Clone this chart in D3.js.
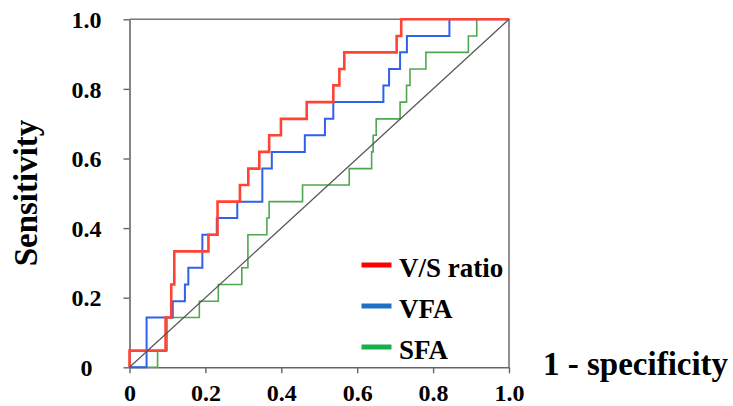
<!DOCTYPE html>
<html>
<head>
<meta charset="utf-8">
<script src="https://cdn.jsdelivr.net/npm/d3@7"></script>
<style>
  body { margin: 0; background: #fff; }
  svg text { font-family: "Liberation Serif", "DejaVu Serif", "Noto Serif", "Times New Roman", Times, serif; font-weight: bold; fill: #000; }
</style>
</head>
<body>
<div class="chart"></div>
<script>
// ROC curves: fpr where the curve steps up, and the sensitivity it reaches
var vsRatioFpr = [0, 0, 0.095, 0.110, 0.118, 0.208, 0.232, 0.291, 0.313, 0.342, 0.368, 0.399, 0.467, 0.537, 0.553, 0.566, 0.704, 0.716, 1];
var vsRatioTpr = [0, 0.048, 0.143, 0.238, 0.333, 0.381, 0.476, 0.524, 0.571, 0.619, 0.667, 0.714, 0.762, 0.810, 0.857, 0.905, 0.952, 1, 1];

var vfaFpr = [0, 0.045, 0.114, 0.146, 0.155, 0.192, 0.230, 0.284, 0.350, 0.375, 0.462, 0.515, 0.537, 0.669, 0.684, 0.713, 0.731, 0.843, 1];
var vfaTpr = [0, 0.143, 0.190, 0.238, 0.286, 0.381, 0.429, 0.476, 0.571, 0.619, 0.667, 0.714, 0.762, 0.810, 0.857, 0.905, 0.952, 1, 1];

var sfaFpr = [0, 0.074, 0.099, 0.184, 0.234, 0.296, 0.312, 0.362, 0.368, 0.456, 0.579, 0.638, 0.642, 0.650, 0.713, 0.730, 0.739, 0.781, 0.893, 0.915, 1];
var sfaTpr = [0, 0.048, 0.143, 0.190, 0.238, 0.286, 0.381, 0.429, 0.476, 0.524, 0.571, 0.619, 0.667, 0.714, 0.762, 0.810, 0.857, 0.905, 0.952, 1, 1];

var diagonal = [0, 1];
var tickValues = [0, 0.2, 0.4, 0.6, 0.8, 1.0];
var tickLabels = ["0", "0.2", "0.4", "0.6", "0.8", "1.0"];
var seriesNames = ["V/S ratio", "VFA", "SFA"];

var svgWidth = 733;
var svgHeight = 406;

var margin = { top: 19.3, right: 224, bottom: 38.7, left: 129.5 };
var width = svgWidth - margin.left - margin.right;
var height = svgHeight - margin.top - margin.bottom;

var svg = d3.select(".chart")
  .append("svg")
  .attr("width", svgWidth)
  .attr("height", svgHeight);

var chartGroup = svg.append("g")
  .attr("transform", `translate(${margin.left}, ${margin.top})`);

var xScale = d3.scaleLinear().domain([0, 1]).range([0, width]);
var yScale = d3.scaleLinear().domain([0, 1]).range([height, 0]);

// frame (top and right sides)
chartGroup.append("path")
  .attr("d", `M${xScale(0)},${yScale(1)}H${xScale(1)}V${yScale(0)}`)
  .attr("fill", "none")
  .attr("stroke", "#777")
  .attr("stroke-width", 1.6);

// axes
var labelOf = d => tickLabels[tickValues.indexOf(d)];

var leftAxis = d3.axisLeft(yScale).tickValues(tickValues).tickFormat(labelOf).tickSize(6).tickSizeOuter(0);
var bottomAxis = d3.axisBottom(xScale).tickValues(tickValues).tickFormat(labelOf).tickSize(6).tickSizeOuter(0);

var yAxisG = chartGroup.append("g").call(leftAxis);
var xAxisG = chartGroup.append("g")
  .attr("transform", `translate(0, ${height})`)
  .call(bottomAxis);

[yAxisG, xAxisG].forEach(function(g) {
  g.attr("font-family", null).attr("font-size", null);
  g.select(".domain").attr("stroke", "#666").attr("stroke-width", 1.6);
  g.selectAll(".tick line").attr("stroke", "#666").attr("stroke-width", 1.4);
  g.selectAll(".tick text")
    .attr("font-size", 24)
    .attr("fill", "#000");
});

yAxisG.selectAll(".tick text")
  .attr("text-anchor", "middle")
  .attr("x", -43)
  .attr("dy", "0.34em");

xAxisG.selectAll(".tick text")
  .attr("y", 34)
  .attr("dy", 0);

// curves
var stepLine = d3.line()
  .x(d => xScale(d[0]))
  .y(d => yScale(d[1]))
  .curve(d3.curveStepAfter);

var series = [
  { name: seriesNames[2], fpr: sfaFpr, tpr: sfaTpr, color: "#4fa84f", w: 1.6 },
  { name: seriesNames[1], fpr: vfaFpr, tpr: vfaTpr, color: "#3060ec", w: 2 },
  { name: seriesNames[0], fpr: vsRatioFpr, tpr: vsRatioTpr, color: "#ff4436", w: 2.6 }
];

series.forEach(function(s) {
  var pts = s.fpr.map((f, i) => [f, s.tpr[i]]);
  chartGroup.append("path")
    .datum(pts)
    .attr("d", stepLine)
    .attr("fill", "none")
    .attr("stroke", s.color)
    .attr("stroke-width", s.w);
});

// chance line
chartGroup.append("path")
  .datum(diagonal.map(d => [d, d]))
  .attr("d", d3.line().x(d => xScale(d[0])).y(d => yScale(d[1])))
  .attr("fill", "none")
  .attr("stroke", "#555")
  .attr("stroke-width", 1.2);

// legend
var legendColors = ["#ff0000", "#1f6fc6", "#14b04c"];
var legend = chartGroup.selectAll("g.legend")
  .data(seriesNames)
  .enter()
  .append("g")
  .attr("class", "legend")
  .attr("transform", (d, i) => `translate(${232}, ${245.7 + i * 41})`);

legend.append("line")
  .attr("x1", 0).attr("x2", 30)
  .attr("stroke", (d, i) => legendColors[i])
  .attr("stroke-width", 5);

legend.append("text")
  .attr("x", 37.5)
  .attr("y", 11.5)
  .attr("font-size", 27)
  .text(d => d);

// axis titles
svg.append("text")
  .attr("transform", "translate(37, 193) rotate(-90)")
  .attr("text-anchor", "middle")
  .attr("font-size", 33)
  .text("Sensitivity");

svg.append("text")
  .attr("x", 543)
  .attr("y", 375)
  .attr("font-size", 33)
  .text("1 - specificity");
</script>
</body>
</html>
